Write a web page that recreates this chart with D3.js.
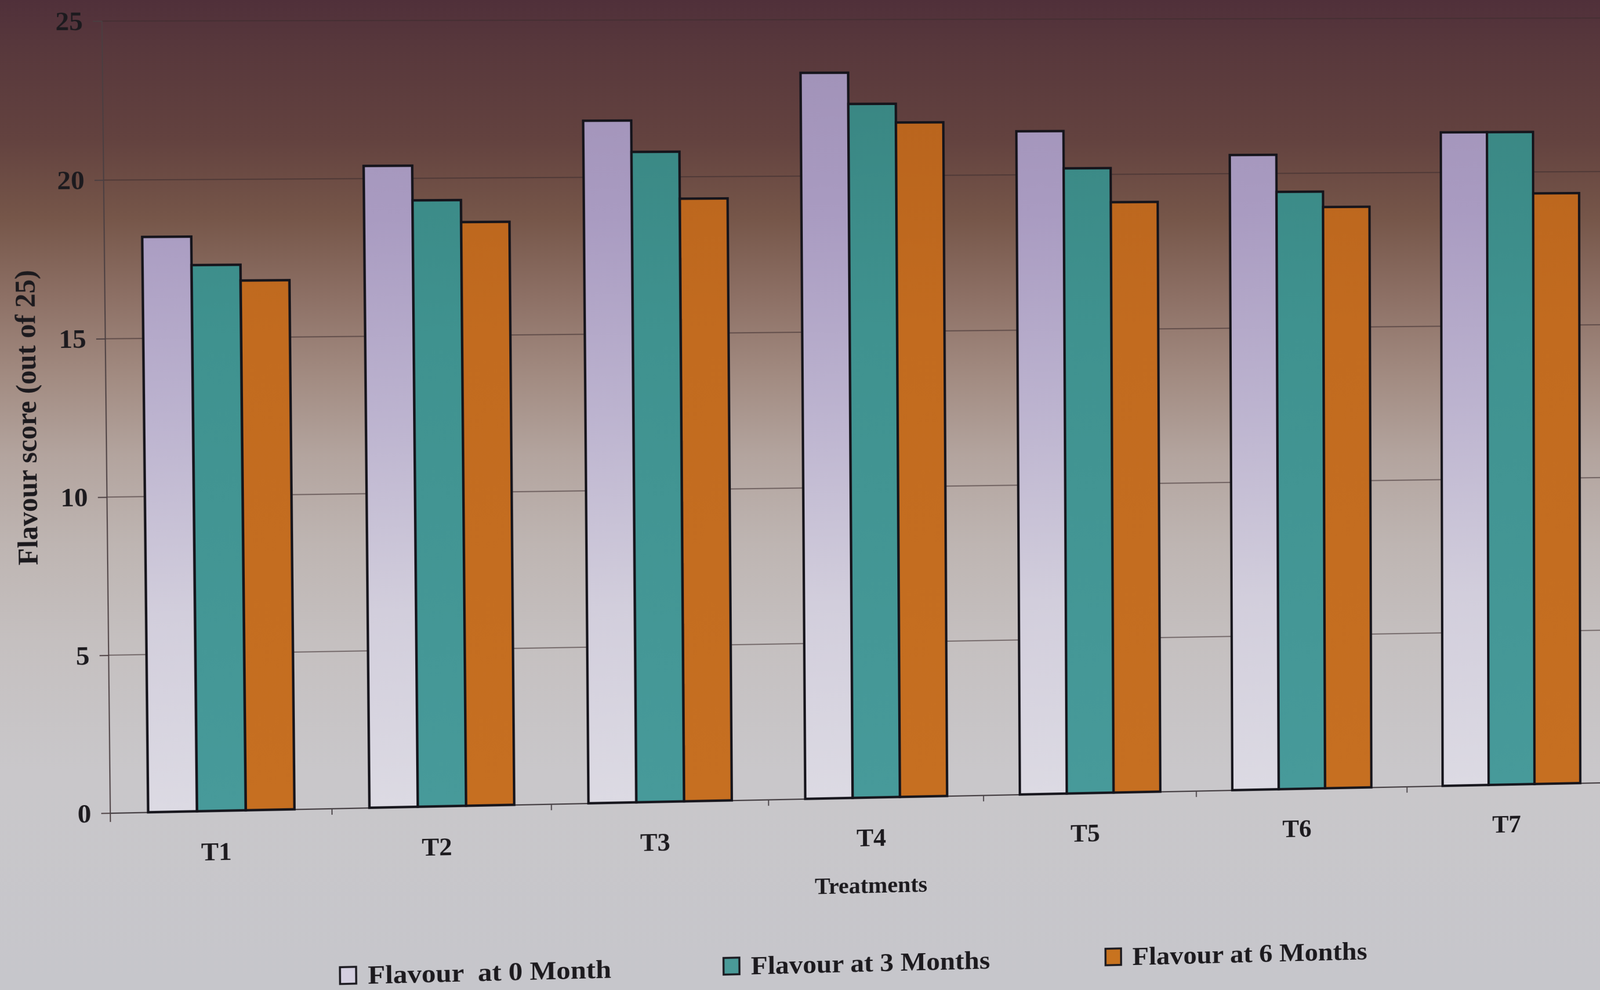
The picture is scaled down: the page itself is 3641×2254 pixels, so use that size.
<!DOCTYPE html>
<html><head><meta charset="utf-8">
<script src="https://cdn.jsdelivr.net/npm/d3@7"></script>
<style>
html,body{margin:0;padding:0;overflow:hidden;background:#c6c6ca}
#wrap{position:relative;width:3641px;height:2254px;overflow:hidden}
#wrap svg{position:absolute;left:0;top:0}
#chart{transform-origin:0 0}
text{font-family:"Liberation Serif","Times New Roman",serif;font-weight:bold;fill:#1c1a1e}
</style></head><body>
<div id="wrap"><svg id="bg" width="3641" height="2254"></svg><svg id="chart" width="3641" height="2254" overflow="visible"></svg></div>
<script>
// ---- data ----
const categories = ["T1", "T2", "T3", "T4", "T5", "T6", "T7"];
const seriesNames = ["Flavour  at 0 Month", "Flavour at 3 Months", "Flavour at 6 Months"];
const flavour0Month = [18.2, 20.4, 21.8, 23.3, 21.4, 20.6, 21.3];
const flavour3Months = [17.3, 19.3, 20.8, 22.3, 20.2, 19.4, 21.3];
const flavour6Months = [16.8, 18.6, 19.3, 21.7, 19.1, 18.9, 19.3];
const yTickValues = [0, 5, 10, 15, 20, 25];
const xTitle = "Treatments";
const yTitle = "Flavour score (out of 25)";

const series = [flavour0Month, flavour3Months, flavour6Months];
const seriesFill = ["url(#gLav)", "url(#gTeal)", "url(#gOrange)"];
const legendFill = ["#d4cfe0", "#4a9a98", "#c8731f"];

// ---- layout (undistorted frame) ----
const W = 3641, H = 2254;
const L = 241, R = 3675, T = 45, B = 1816;

// ---- background (photo lighting) ----
const bg = d3.select("#bg");
const bgDefs = bg.append("defs");
const bgGrad = bgDefs.append("linearGradient").attr("id", "bgG").attr("x1", 0).attr("y1", 0).attr("x2", 0).attr("y2", 1);
[[0, "#50303a"], [0.05, "#58383c"], [0.14, "#63423f"], [0.22, "#765649"], [0.3, "#8d7065"],
 [0.38, "#a28b81"], [0.46, "#b3a49e"], [0.55, "#beb5b2"], [0.65, "#c5c0c0"], [0.78, "#c9c7ca"], [1, "#c6c6cb"]]
  .forEach(([o, c]) => bgGrad.append("stop").attr("offset", o).attr("stop-color", c));
bg.append("rect").attr("width", W).attr("height", H).attr("fill", "url(#bgG)");

// ---- chart ----
const svg = d3.select("#chart");
const defs = svg.append("defs");

const x0 = d3.scaleBand().domain(categories).range([L, R]).paddingInner(0.34).paddingOuter(0.17);
const x1 = d3.scaleBand().domain(d3.range(series.length)).range([0, x0.bandwidth()]).padding(0);
const y = d3.scaleLinear().domain([0, 25]).range([B, T]);

function vGrad(id, stops) {
  const g = defs.append("linearGradient").attr("id", id).attr("gradientUnits", "userSpaceOnUse")
    .attr("x1", 0).attr("x2", 0).attr("y1", y(25)).attr("y2", y(0));
  stops.forEach(([o, c]) => g.append("stop").attr("offset", o).attr("stop-color", c));
}
vGrad("gLav", [[0, "#9f90b6"], [0.25, "#a99bc1"], [0.5, "#bcb3cf"], [0.75, "#d2cedc"], [1, "#dcdae3"]]);
vGrad("gTeal", [[0, "#38837f"], [0.4, "#3f928f"], [1, "#479a9a"]]);
vGrad("gOrange", [[0, "#b6621d"], [0.4, "#c26b1f"], [1, "#c66f21"]]);

// grid lines
svg.append("g").selectAll("line").data(yTickValues.filter(d => d > 0)).join("line")
  .attr("x1", L).attr("x2", R).attr("y1", d => y(d)).attr("y2", d => y(d))
  .attr("stroke", "#3b2b2d").attr("stroke-opacity", 0.6).attr("stroke-width", 2.5);

// y axis
const yAxis = svg.append("g").attr("transform", `translate(${L},0)`)
  .call(d3.axisLeft(y).tickValues(yTickValues).tickSize(20).tickSizeOuter(0).tickPadding(22));
yAxis.select(".domain").remove();
yAxis.selectAll(".tick line").attr("stroke", "#4a3e40").attr("stroke-width", 2.5);
yAxis.selectAll(".tick text").attr("font-size", 60).attr("font-family", null).attr("fill", null);
yAxis.append("line").attr("x1", 0).attr("x2", 0).attr("y1", y(25)).attr("y2", y(0) + 20)
  .attr("stroke", "#4a3e40").attr("stroke-width", 2.5);

// x axis baseline + boundary ticks + labels
const xAxis = svg.append("g").attr("transform", `translate(0,${B})`)
  .call(d3.axisBottom(x0).tickSize(0).tickPadding(70));
xAxis.select(".domain").attr("stroke", "#4a4448").attr("stroke-width", 3);
xAxis.selectAll(".tick text").attr("font-size", 58).attr("dx", -12).attr("font-family", null).attr("fill", null);
svg.append("g").selectAll("line").data(categories.slice(1)).join("line")
  .attr("x1", d => x0(d) - x0.step() * x0.paddingInner() / 2)
  .attr("x2", d => x0(d) - x0.step() * x0.paddingInner() / 2)
  .attr("y1", B).attr("y2", B + 14).attr("stroke", "#4a4448").attr("stroke-width", 2.5);

// bars
const groups = svg.append("g").selectAll("g").data(categories).join("g")
  .attr("transform", d => `translate(${x0(d)},0)`);
groups.selectAll("rect").data((d, i) => series.map((s, k) => ({ k, v: s[i] }))).join("rect")
  .attr("x", d => x1(d.k)).attr("width", x1.bandwidth())
  .attr("y", d => y(d.v)).attr("height", d => y(0) - y(d.v))
  .attr("fill", d => seriesFill[d.k])
  .attr("stroke", "#15141b").attr("stroke-width", 5.5).attr("stroke-linejoin", "miter");

// axis titles
svg.append("text").attr("x", 1945).attr("y", B + 200).attr("text-anchor", "middle")
  .attr("dominant-baseline", "central").attr("font-size", 53).text(xTitle);
svg.append("text").attr("transform", `translate(66,${928}) rotate(-90)`).attr("text-anchor", "middle")
  .attr("dominant-baseline", "central").attr("font-size", 63).text(yTitle);

// legend
const legendX = [746, 1608, 2482];
const leg = svg.append("g").selectAll("g").data(seriesNames).join("g")
  .attr("transform", (d, i) => `translate(${legendX[i]},${B + 378})`);
leg.append("rect").attr("x", 0).attr("y", -19).attr("width", 36).attr("height", 38)
  .attr("fill", (d, i) => legendFill[i]).attr("stroke", "#1b1a20").attr("stroke-width", 4.5);
leg.append("text").attr("x", 62).attr("y", 0).attr("dominant-baseline", "central")
  .attr("font-size", 60).attr("textLength", 546).attr("lengthAdjust", "spacingAndGlyphs")
  .style("white-space", "pre").text(d => d);

// ---- photo perspective (homography from the undistorted plot frame to the photographed quad) ----
function solve(A, b) {
  const n = b.length, M = A.map((r, i) => [...r, b[i]]);
  for (let c = 0; c < n; c++) {
    let p = c; for (let r = c + 1; r < n; r++) if (Math.abs(M[r][c]) > Math.abs(M[p][c])) p = r;
    [M[c], M[p]] = [M[p], M[c]];
    for (let r = 0; r < n; r++) if (r !== c) {
      const f = M[r][c] / M[c][c];
      for (let k = c; k <= n; k++) M[r][k] -= f * M[c][k];
    }
  }
  return M.map((r, i) => r[n] / r[i]);
}
function homography(src, dst) {
  const A = [], b = [];
  for (let i = 0; i < 4; i++) {
    const [xs, ys] = src[i], [u, v] = dst[i];
    A.push([xs, ys, 1, 0, 0, 0, -u * xs, -u * ys]); b.push(u);
    A.push([0, 0, 0, xs, ys, 1, -v * xs, -v * ys]); b.push(v);
  }
  return solve(A, b);
}
const srcQuad = [[L, T], [R, T], [R, B], [L, B]];
const dstQuad = [[232, 48], [3673, 41], [3676, 1781], [251, 1851]];
const [a, b2, c, d, e, f, g, h] = homography(srcQuad, dstQuad);
d3.select("#chart").style("transform",
  `matrix3d(${a},${d},0,${g},${b2},${e},0,${h},0,0,1,0,${c},${f},0,1)`);
</script>
</body></html>
